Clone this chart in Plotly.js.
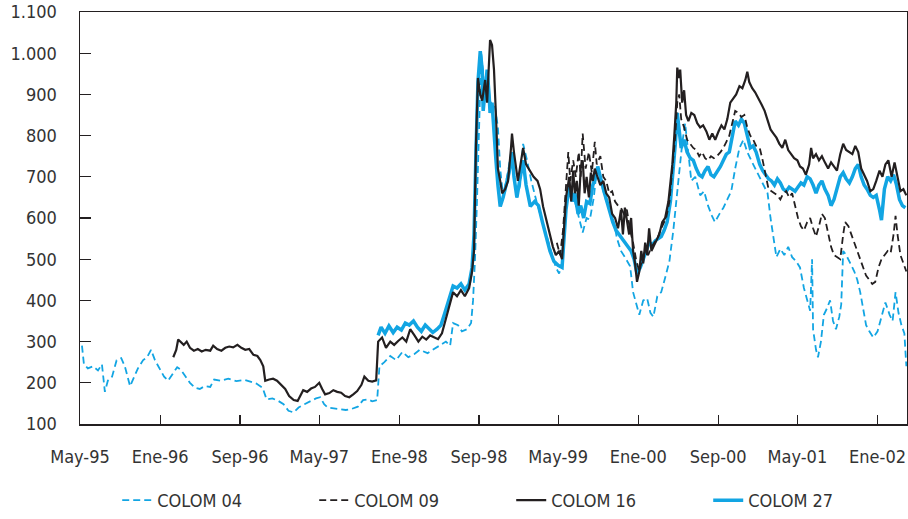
<!DOCTYPE html>
<html>
<head>
<meta charset="utf-8">
<script src="https://cdn.plot.ly/plotly-3.0.1.min.js"></script>
<style>html,body{margin:0;padding:0;background:#fff;}#chart{width:908px;height:519px;}</style>
</head>
<body>
<div id="chart"></div>
<script>
// Tick labels (Spanish month abbreviations)
var tickDates = ["1995-05-01","1996-01-01","1996-09-01","1997-05-01","1998-01-01","1998-09-01","1999-05-01","2000-01-01","2000-09-01","2001-05-01","2002-01-01"];
var tickLabels = ["May-95","Ene-96","Sep-96","May-97","Ene-98","Sep-98","May-99","Ene-00","Sep-00","May-01","Ene-02"];
var seriesNames = ["COLOM 04","COLOM 09","COLOM 16","COLOM 27"];

// COLOM 04
var c04Dates = ["1995-05-07","1995-05-13","1995-05-25","1995-06-10","1995-06-25","1995-07-07","1995-07-16","1995-07-25","1995-08-07","1995-08-21","1995-09-04","1995-09-15","1995-10-01","1995-10-13","1995-10-25","1995-11-10","1995-11-22","1995-12-04","1995-12-16","1996-01-01","1996-01-13","1996-01-25","1996-02-10","1996-02-22","1996-03-04","1996-03-19","1996-04-01","1996-04-16","1996-05-01","1996-05-16","1996-06-02","1996-06-14","1996-07-03","1996-07-27","1996-08-21","1996-09-15","1996-10-03","1996-10-21","1996-11-09","1996-11-21","1996-12-09","1996-12-27","1997-01-12","1997-01-27","1997-02-12","1997-02-27","1997-03-17","1997-04-03","1997-04-21","1997-05-04","1997-05-16","1997-05-27","1997-06-15","1997-07-03","1997-07-21","1997-08-09","1997-08-27","1997-09-12","1997-09-27","1997-10-10","1997-10-25","1997-11-01","1997-11-16","1997-12-04","1997-12-22","1998-01-10","1998-01-28","1998-02-16","1998-03-04","1998-03-28","1998-04-16","1998-05-05","1998-05-23","1998-06-05","1998-06-14","1998-06-29","1998-07-11","1998-07-26","1998-08-08","1998-08-14","1998-08-20","1998-08-26","1998-09-02","1998-09-08","1998-09-17","1998-09-26","1998-10-08","1998-10-20","1998-10-29","1998-11-05","1998-11-14","1998-11-23","1998-12-05","1998-12-14","1998-12-26","1999-01-05","1999-01-14","1999-01-26","1999-02-08","1999-02-24","1999-03-11","1999-03-26","1999-04-09","1999-04-24","1999-05-04","1999-05-13","1999-05-22","1999-06-06","1999-06-21","1999-07-06","1999-07-15","1999-07-27","1999-08-06","1999-08-18","1999-08-27","1999-09-09","1999-09-21","1999-10-06","1999-10-18","1999-10-28","1999-11-09","1999-11-21","1999-12-07","1999-12-16","1999-12-25","2000-01-04","2000-01-16","2000-01-28","2000-02-07","2000-02-16","2000-02-28","2000-03-11","2000-03-23","2000-04-05","2000-04-17","2000-04-26","2000-05-05","2000-05-14","2000-05-23","2000-06-02","2000-06-11","2000-06-23","2000-07-08","2000-07-20","2000-08-01","2000-08-13","2000-08-22","2000-09-05","2000-09-17","2000-09-29","2000-10-11","2000-10-23","2000-11-05","2000-11-17","2000-11-29","2000-12-11","2000-12-23","2001-01-06","2001-01-18","2001-01-30","2001-02-08","2001-02-17","2001-02-26","2001-03-10","2001-03-22","2001-04-03","2001-04-15","2001-04-27","2001-05-09","2001-05-21","2001-05-31","2001-06-09","2001-06-15","2001-06-18","2001-06-27","2001-07-03","2001-07-12","2001-07-21","2001-07-30","2001-08-09","2001-08-18","2001-08-27","2001-09-06","2001-09-12","2001-09-18","2001-09-27","2001-10-10","2001-10-22","2001-10-31","2001-11-09","2001-11-18","2001-11-27","2001-12-07","2001-12-19","2002-01-01","2002-01-13","2002-01-25","2002-02-07","2002-02-16","2002-02-25","2002-03-06","2002-03-15","2002-03-24","2002-03-30"];
var c04Values = [290,245,235,240,230,245,178,205,215,255,260,240,192,215,235,255,262,280,255,232,215,205,225,238,232,215,200,188,185,192,190,208,205,210,204,207,203,198,188,160,162,156,148,132,128,140,148,155,162,165,148,140,138,136,134,137,142,158,160,155,158,240,250,265,255,275,262,270,280,272,282,290,300,290,345,340,325,330,345,400,500,640,860,1000,920,890,880,870,820,720,650,690,740,720,650,680,780,740,690,640,600,555,520,480,465,490,620,680,640,595,565,600,596,650,717,690,650,620,590,550,520,505,483,420,395,365,400,405,370,360,410,420,455,495,570,640,720,780,830,760,690,700,655,665,630,605,590,610,625,645,665,720,770,790,760,740,720,700,680,660,600,555,505,525,510,530,505,495,480,430,400,375,500,330,280,262,300,365,380,400,350,330,360,390,520,510,490,470,450,420,380,340,325,310,325,360,395,365,350,420,370,340,320,240];

// COLOM 09
var c09Dates = ["1999-04-27","1999-05-07","1999-05-16","1999-05-25","1999-06-01","1999-06-07","1999-06-16","1999-06-24","1999-07-03","1999-07-09","1999-07-15","1999-07-24","1999-08-03","1999-08-12","1999-08-21","1999-08-27","1999-09-07","1999-09-16","1999-09-25","1999-10-04","1999-10-13","1999-10-22","1999-10-31","1999-11-09","1999-11-18","1999-11-27","1999-12-07","1999-12-16","1999-12-25","2000-01-04","2000-01-13","2000-01-22","2000-01-31","2000-02-10","2000-02-19","2000-02-28","2000-03-08","2000-03-17","2000-03-26","2000-04-05","2000-04-14","2000-04-23","2000-04-29","2000-05-05","2000-05-11","2000-05-20","2000-05-29","2000-06-08","2000-06-17","2000-06-26","2000-07-05","2000-07-14","2000-07-23","2000-08-01","2000-08-10","2000-08-19","2000-08-28","2000-09-08","2000-09-17","2000-09-26","2000-10-05","2000-10-14","2000-10-23","2000-11-02","2000-11-11","2000-11-20","2000-11-29","2000-12-08","2000-12-17","2000-12-26","2001-01-06","2001-01-15","2001-01-24","2001-02-02","2001-02-11","2001-02-20","2001-03-01","2001-03-10","2001-03-19","2001-03-28","2001-04-06","2001-04-15","2001-04-24","2001-05-03","2001-05-12","2001-05-21","2001-05-31","2001-06-09","2001-06-18","2001-06-27","2001-07-06","2001-07-15","2001-07-24","2001-08-03","2001-08-12","2001-08-21","2001-08-30","2001-09-09","2001-09-18","2001-09-24","2001-10-04","2001-10-13","2001-10-22","2001-10-31","2001-11-09","2001-11-18","2001-11-27","2001-12-07","2001-12-16","2001-12-25","2002-01-04","2002-01-13","2002-01-22","2002-02-01","2002-02-10","2002-02-19","2002-02-25","2002-03-03","2002-03-12","2002-03-21","2002-03-30"];
var c09Values = [540,510,570,680,760,690,740,700,760,700,805,720,760,710,785,730,750,700,690,660,665,640,630,625,610,620,570,540,500,470,500,520,510,530,540,550,570,585,600,640,720,800,880,900,840,820,790,780,770,765,750,760,745,740,750,745,750,760,770,785,800,830,860,855,845,850,820,800,790,775,770,740,700,670,665,660,655,645,660,665,650,660,630,600,580,570,590,600,575,555,580,610,600,560,530,510,505,500,560,590,580,560,540,520,500,475,460,450,440,445,480,500,510,520,515,560,605,560,510,490,470];

// COLOM 16
var c16Dates = ["1996-02-10","1996-02-19","1996-02-25","1996-03-04","1996-03-13","1996-03-22","1996-04-01","1996-04-13","1996-04-25","1996-05-07","1996-05-19","1996-06-02","1996-06-11","1996-06-23","1996-07-06","1996-07-18","1996-07-30","1996-08-11","1996-08-24","1996-09-05","1996-09-17","1996-09-29","1996-10-12","1996-10-24","1996-11-02","1996-11-11","1996-11-17","1996-11-29","1996-12-11","1996-12-23","1997-01-05","1997-01-17","1997-01-29","1997-02-12","1997-02-24","1997-03-04","1997-03-13","1997-03-25","1997-04-06","1997-04-18","1997-05-01","1997-05-10","1997-05-19","1997-06-01","1997-06-13","1997-06-25","1997-07-07","1997-07-19","1997-08-01","1997-08-13","1997-08-25","1997-09-07","1997-09-16","1997-09-28","1997-10-10","1997-10-22","1997-10-28","1997-11-09","1997-11-21","1997-12-04","1997-12-16","1997-12-29","1998-01-10","1998-01-22","1998-02-03","1998-02-16","1998-02-28","1998-03-12","1998-03-24","1998-04-05","1998-04-16","1998-04-29","1998-05-11","1998-05-23","1998-06-05","1998-06-14","1998-06-26","1998-07-08","1998-07-20","1998-08-02","1998-08-11","1998-08-17","1998-08-20","1998-08-23","1998-08-29","1998-09-05","1998-09-11","1998-09-20","1998-09-26","1998-10-02","1998-10-05","1998-10-11","1998-10-17","1998-10-23","1998-10-29","1998-11-05","1998-11-11","1998-11-20","1998-11-29","1998-12-08","1998-12-11","1998-12-17","1998-12-23","1998-12-29","1999-01-08","1999-01-14","1999-01-23","1999-02-03","1999-02-15","1999-02-27","1999-03-07","1999-03-16","1999-03-28","1999-04-06","1999-04-15","1999-04-24","1999-05-04","1999-05-13","1999-05-19","1999-05-25","1999-06-04","1999-06-10","1999-06-16","1999-06-21","1999-06-27","1999-07-03","1999-07-09","1999-07-15","1999-07-21","1999-07-27","1999-08-03","1999-08-09","1999-08-15","1999-08-21","1999-08-27","1999-09-07","1999-09-16","1999-09-25","1999-10-04","1999-10-13","1999-10-22","1999-10-31","1999-11-09","1999-11-15","1999-11-21","1999-11-27","1999-12-04","1999-12-10","1999-12-16","1999-12-22","1999-12-28","2000-01-04","2000-01-10","2000-01-16","2000-01-22","2000-01-28","2000-02-03","2000-02-10","2000-02-16","2000-02-25","2000-03-05","2000-03-14","2000-03-23","2000-04-02","2000-04-08","2000-04-14","2000-04-20","2000-04-26","2000-04-29","2000-05-05","2000-05-08","2000-05-14","2000-05-20","2000-05-26","2000-06-02","2000-06-11","2000-06-20","2000-06-29","2000-07-08","2000-07-17","2000-07-27","2000-08-05","2000-08-14","2000-08-23","2000-09-02","2000-09-11","2000-09-20","2000-09-29","2000-10-08","2000-10-17","2000-10-26","2000-11-05","2000-11-14","2000-11-23","2000-11-29","2000-12-05","2000-12-14","2000-12-23","2001-01-03","2001-01-12","2001-01-21","2001-01-30","2001-02-08","2001-02-17","2001-02-26","2001-03-07","2001-03-16","2001-03-25","2001-04-03","2001-04-12","2001-04-21","2001-05-01","2001-05-09","2001-05-18","2001-05-27","2001-06-06","2001-06-12","2001-06-18","2001-06-27","2001-07-06","2001-07-15","2001-07-24","2001-08-03","2001-08-12","2001-08-21","2001-08-30","2001-09-09","2001-09-18","2001-09-27","2001-10-07","2001-10-16","2001-10-25","2001-11-03","2001-11-12","2001-11-21","2001-11-30","2001-12-10","2001-12-19","2001-12-28","2002-01-07","2002-01-16","2002-01-25","2002-02-03","2002-02-13","2002-02-22","2002-03-03","2002-03-12","2002-03-21","2002-03-30"];
var c16Values = [262,280,305,298,292,300,285,278,282,276,280,278,290,282,278,285,288,286,292,285,280,282,268,265,255,240,205,208,210,205,195,185,168,158,156,168,182,178,186,190,200,185,172,175,182,178,176,168,165,172,180,195,215,205,203,206,300,310,285,300,292,302,310,300,330,315,300,312,305,315,310,306,320,355,395,420,410,425,410,430,470,520,650,780,940,900,885,935,880,990,1032,1020,960,850,720,690,660,670,690,770,805,760,720,690,740,770,730,715,700,690,670,628,590,560,530,510,520,500,590,650,700,640,715,660,690,630,720,740,660,700,650,710,690,720,705,680,690,660,650,610,600,575,620,560,625,590,560,600,520,490,445,470,520,490,540,510,575,520,530,545,560,590,600,640,690,730,800,880,965,940,960,880,910,850,835,855,850,830,820,825,810,790,805,790,810,825,815,840,880,890,900,920,915,935,955,930,915,905,890,875,860,840,815,805,795,780,770,790,765,755,745,740,725,720,705,730,770,745,755,740,750,735,720,735,725,715,755,780,765,760,755,775,760,720,705,690,665,670,690,715,700,730,740,700,735,700,665,670,655];

// COLOM 27
var c27Dates = ["1997-10-28","1997-11-06","1997-11-18","1997-11-30","1997-12-13","1997-12-25","1998-01-07","1998-01-19","1998-01-31","1998-02-13","1998-02-25","1998-03-09","1998-03-21","1998-04-02","1998-04-13","1998-04-26","1998-05-08","1998-05-20","1998-06-02","1998-06-14","1998-06-26","1998-07-08","1998-07-20","1998-08-02","1998-08-11","1998-08-17","1998-08-23","1998-08-29","1998-09-05","1998-09-11","1998-09-14","1998-09-20","1998-09-26","1998-10-02","1998-10-05","1998-10-11","1998-10-17","1998-10-23","1998-10-29","1998-11-05","1998-11-14","1998-11-23","1998-12-02","1998-12-11","1998-12-17","1998-12-26","1999-01-05","1999-01-14","1999-01-23","1999-02-05","1999-02-18","1999-03-02","1999-03-14","1999-03-26","1999-04-06","1999-04-18","1999-05-01","1999-05-13","1999-05-19","1999-05-25","1999-06-04","1999-06-13","1999-06-21","1999-07-01","1999-07-09","1999-07-18","1999-07-27","1999-08-06","1999-08-15","1999-08-24","1999-08-30","1999-09-09","1999-09-18","1999-09-27","1999-10-06","1999-10-15","1999-10-25","1999-11-03","1999-11-12","1999-11-21","1999-11-30","1999-12-10","1999-12-19","1999-12-28","2000-01-07","2000-01-16","2000-01-25","2000-02-03","2000-02-13","2000-02-22","2000-03-02","2000-03-11","2000-03-20","2000-03-29","2000-04-08","2000-04-17","2000-04-23","2000-04-29","2000-05-05","2000-05-11","2000-05-20","2000-05-29","2000-06-08","2000-06-17","2000-06-26","2000-07-05","2000-07-14","2000-07-23","2000-08-01","2000-08-10","2000-08-19","2000-08-28","2000-09-08","2000-09-17","2000-09-26","2000-10-05","2000-10-14","2000-10-23","2000-11-02","2000-11-11","2000-11-20","2000-11-29","2000-12-08","2000-12-17","2000-12-26","2001-01-06","2001-01-15","2001-01-24","2001-02-02","2001-02-11","2001-02-20","2001-03-01","2001-03-10","2001-03-19","2001-03-28","2001-04-06","2001-04-15","2001-04-24","2001-05-03","2001-05-12","2001-05-21","2001-05-31","2001-06-09","2001-06-18","2001-06-27","2001-07-06","2001-07-15","2001-07-24","2001-08-03","2001-08-12","2001-08-21","2001-08-30","2001-09-09","2001-09-18","2001-09-27","2001-10-07","2001-10-16","2001-10-25","2001-11-03","2001-11-12","2001-11-21","2001-11-30","2001-12-10","2001-12-19","2001-12-28","2002-01-07","2002-01-13","2002-01-22","2002-02-01","2002-02-10","2002-02-19","2002-02-28","2002-03-09","2002-03-18","2002-03-27"];
var c27Values = [315,335,320,338,322,335,328,345,340,350,335,325,340,332,322,330,340,370,405,435,430,440,425,440,480,560,760,930,1005,960,860,920,960,900,855,880,800,740,680,628,650,680,710,760,700,650,700,740,680,628,640,630,590,550,520,495,485,480,570,620,680,640,660,610,630,600,640,635,680,700,725,690,665,640,615,590,570,560,548,540,530,520,500,465,480,500,520,540,535,545,550,555,570,590,640,720,780,855,820,770,790,760,745,740,720,705,700,715,725,705,700,710,725,740,755,760,800,835,825,840,830,800,770,775,760,730,715,705,695,690,680,695,685,670,665,675,670,665,675,685,680,700,695,680,660,680,690,670,655,630,645,675,700,710,695,685,700,720,730,700,680,670,655,650,655,620,595,670,700,690,705,680,645,630,625];

var fontFam = "'DejaVu Sans Condensed', 'Liberation Sans Narrow', 'Roboto Condensed', 'Liberation Sans', sans-serif";
var blue = '#12a5e3';
var dark = '#231f20';

var traces = [
  {x: c27Dates, y: c27Values, name: seriesNames[3], type: 'scatter', mode: 'lines', legendrank: 4,
   line: {color: blue, width: 3.5}},
  {x: c04Dates, y: c04Values, name: seriesNames[0], type: 'scatter', mode: 'lines', legendrank: 1,
   line: {color: blue, width: 1.8, dash: '7px,4px'}},
  {x: c09Dates, y: c09Values, name: seriesNames[1], type: 'scatter', mode: 'lines', legendrank: 2,
   line: {color: dark, width: 1.8, dash: '7px,4px'}},
  {x: c16Dates, y: c16Values, name: seriesNames[2], type: 'scatter', mode: 'lines', legendrank: 3,
   line: {color: dark, width: 2.2}}
];

var layout = {
  width: 908, height: 519,
  margin: {l: 80, r: 1, t: 12, b: 94},
  paper_bgcolor: '#fff', plot_bgcolor: '#fff',
  separators: ',.',
  font: {family: fontFam, size: 18, color: '#333'},
  showlegend: true,
  legend: {orientation: 'h', x: 0.045, xanchor: 'left', y: -0.138, yanchor: 'top',
           entrywidth: 152, traceorder: 'normal', font: {family: fontFam, size: 18, color: '#333'}},
  xaxis: {
    type: 'date', range: ['1995-05-01', '2002-04-01'],
    tickmode: 'array', tickvals: tickDates, ticktext: tickLabels,
    ticks: 'inside', ticklen: 9, tickwidth: 1.2, tickcolor: dark,
    showline: true, linecolor: dark, linewidth: 1.5, mirror: true,
    showgrid: false, zeroline: false, ticklabelstandoff: 16,
    tickfont: {family: fontFam, size: 18, color: '#333'}
  },
  yaxis: {
    range: [100, 1100], tickmode: 'array',
    tickvals: [100,200,300,400,500,600,700,800,900,1000,1100],
    tickformat: ',.0f',
    ticks: 'inside', ticklen: 11, tickwidth: 1.2, tickcolor: dark,
    showline: true, linecolor: dark, linewidth: 1.5, mirror: true,
    showgrid: false, zeroline: false, ticklabelstandoff: 18,
    tickfont: {family: fontFam, size: 18, color: '#333'}
  }
};

Plotly.newPlot('chart', traces, layout, {staticPlot: true, displayModeBar: false});
</script>
</body>
</html>
